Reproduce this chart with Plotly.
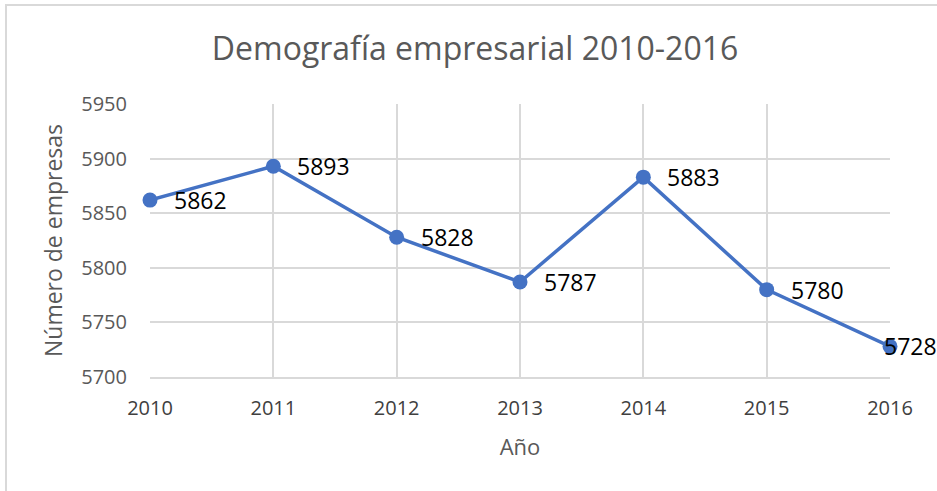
import plotly.graph_objects as go

years = [2010, 2011, 2012, 2013, 2014, 2015, 2016]
empresas = [5862, 5893, 5828, 5787, 5883, 5780, 5728]
y_ticks = [5700, 5750, 5800, 5850, 5900, 5950]

title_text = "Demografía empresarial 2010-2016"
x_title = "Año"
y_title = "Número de empresas"

BLUE = "#4472C4"
GRID = "#D9D9D9"
FONT = "Open Sans"

fig = go.Figure()
fig.add_trace(go.Scatter(
    x=years, y=empresas, mode="lines+markers",
    line=dict(color=BLUE, width=3.5),
    marker=dict(color=BLUE, size=15),
    cliponaxis=False, showlegend=False, hoverinfo="x+y",
))

# data labels (to the right of each point; last one pulled back inside the chart)
for i, (x, y) in enumerate(zip(years, empresas)):
    last = i == len(years) - 1
    fig.add_annotation(
        x=x, y=y, text=str(y), showarrow=False,
        xanchor="left", yanchor="middle",
        xshift=-8 if last else 22, yshift=0,
        font=dict(family=FONT, size=23, color="#000000"),
    )

# chart border (outer frame)
fig.add_shape(type="rect", xref="paper", yref="paper",
              x0=(6 - 150) / 740, x1=2.0, y0=-1.0, y1=(377 - 5) / 273,
              line=dict(color=GRID, width=2), fillcolor="rgba(0,0,0,0)", layer="below")

fig.update_layout(
    width=937, height=491,
    margin=dict(l=150, r=47, t=104, b=114),
    paper_bgcolor="white", plot_bgcolor="white",
    font=dict(family=FONT, color="#595959"),
    title=dict(text=title_text, x=0.507, xanchor="center", y=1 - 49 / 491, yanchor="middle",
               xref="container", yref="container",
               font=dict(family=FONT, size=32, color="#595959")),
    xaxis=dict(
        range=[2010, 2016], tickmode="array", tickvals=years, ticktext=[str(v) for v in years],
        showgrid=True, gridcolor=GRID, gridwidth=1.5,
        showline=True, linecolor=GRID, linewidth=1.5,
        zeroline=False, ticks="", ticklabelstandoff=12,
        tickfont=dict(family=FONT, size=20, color="#404040"),
        title=dict(text=x_title, standoff=20, font=dict(family=FONT, size=22, color="#595959")),
    ),
    yaxis=dict(
        range=[5700, 5950], tickmode="array", tickvals=y_ticks,
        showgrid=True, gridcolor=GRID, gridwidth=1.5,
        showline=False, zeroline=False, ticks="", ticklabelstandoff=22,
        tickfont=dict(family=FONT, size=20, color="#595959"),
        title=dict(text=y_title, standoff=12, font=dict(family=FONT, size=23, color="#595959")),
    ),
)

fig.write_html("out.html", config={"displayModeBar": False},
               post_script="document.body.style.margin='0';document.body.style.overflow='hidden';")
